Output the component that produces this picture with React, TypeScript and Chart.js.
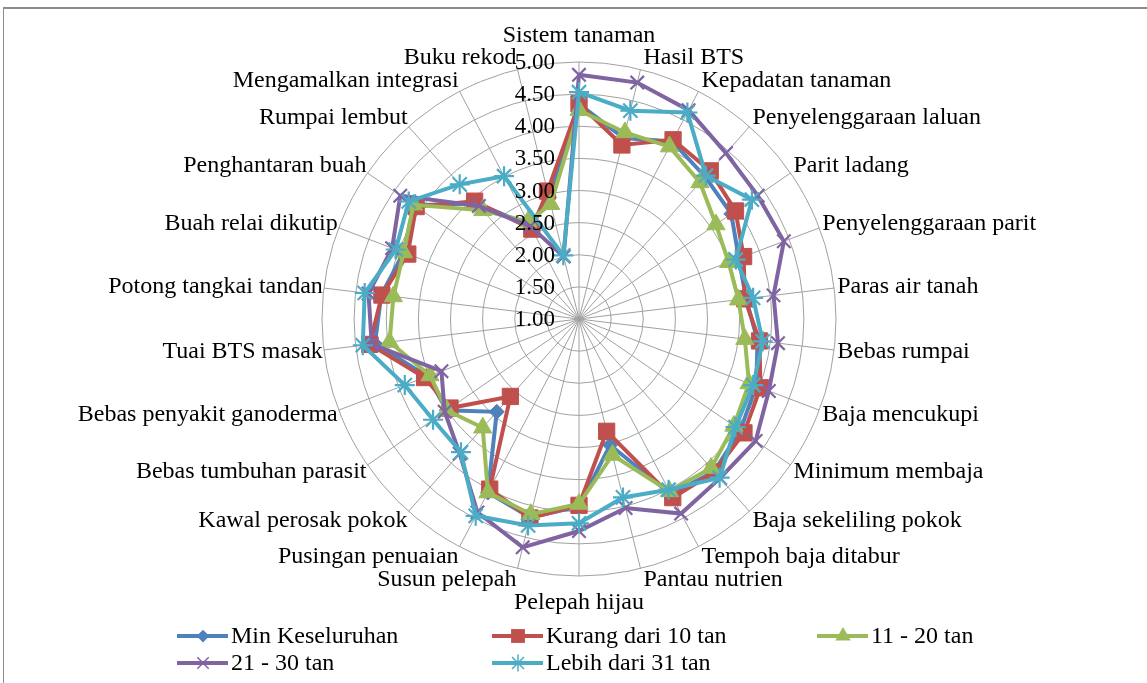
import React, { useEffect, useRef } from "react";
import { Chart, registerables } from "chart.js";

Chart.register(...registerables);

const categories = [
  "Sistem tanaman", "Hasil BTS", "Kepadatan tanaman", "Penyelenggaraan laluan",
  "Parit ladang", "Penyelenggaraan parit", "Paras air tanah", "Bebas rumpai",
  "Baja mencukupi", "Minimum membaja", "Baja sekeliling pokok", "Tempoh baja ditabur",
  "Pantau nutrien", "Pelepah hijau", "Susun pelepah", "Pusingan penuaian",
  "Kawal perosak pokok", "Bebas tumbuhan parasit", "Bebas penyakit ganoderma",
  "Tuai BTS masak", "Potong tangkai tandan", "Buah relai dikutip", "Penghantaran buah",
  "Rumpai lembut", "Mengamalkan integrasi", "Buku rekod",
];

const minKeseluruhan = [4.35, 3.9, 4.12, 3.96, 3.88, 3.66, 3.62, 3.8, 3.95, 4.05, 4.17, 4.08, 3.02, 3.92, 4.18, 4.05, 2.93, 3.5, 3.52, 4.2, 4.1, 3.92, 4.12, 3.4, 2.64, 2.95];
const kurang10 = [4.35, 3.79, 4.15, 4.08, 3.96, 3.74, 3.6, 3.83, 4.02, 4.12, 4.18, 4.14, 2.8, 3.9, 4.19, 3.99, 2.61, 3.44, 3.57, 4.28, 4.09, 3.85, 4.08, 3.45, 2.58, 3.05];
const t11_20 = [4.25, 3.99, 4.03, 3.84, 3.59, 3.49, 3.5, 3.6, 3.83, 3.93, 4.1, 4.03, 3.18, 3.88, 4.13, 4.05, 3.26, 3.5, 3.48, 3.97, 3.91, 3.92, 4.13, 3.26, 2.71, 2.84];
const t21_30 = [4.8, 4.79, 4.67, 4.45, 4.38, 4.41, 4.05, 4.12, 4.16, 4.34, 4.31, 4.42, 4.03, 4.3, 4.66, 4.4, 3.8, 3.54, 3.29, 4.25, 4.3, 4.11, 4.38, 3.35, 2.63, 2.0];
const lebih31 = [4.53, 4.34, 4.63, 3.98, 4.27, 3.61, 3.73, 3.88, 3.9, 3.96, 4.3, 4.0, 3.86, 4.18, 4.31, 4.46, 3.77, 3.76, 3.9, 4.39, 4.36, 4.05, 4.22, 3.8, 3.51, 2.02];

const tickValues = [1.0, 1.5, 2.0, 2.5, 3.0, 3.5, 4.0, 4.5, 5.0];

const seriesNames = ["Min Keseluruhan", "Kurang dari 10 tan", "11 - 20 tan", "21 - 30 tan", "Lebih dari 31 tan"];
const seriesData = [minKeseluruhan, kurang10, t11_20, t21_30, lebih31];
const seriesColors = ["#4F81BD", "#C0504D", "#9BBB59", "#8064A2", "#4BACC6"];
const seriesStyles = ["rectRot", "rect", "triangle", "crossRot", "star"];
const seriesRadius = [7.5, 11.5, 10.5, 9.5, 10];
const seriesOrder = [4, 3, 2, 1, 0];

const FONT = '"Liberation Serif", "Times New Roman", serif';

function drawMarker(ctx: CanvasRenderingContext2D, style: string, x: number, y: number, r: number, color: string) {
  ctx.save();
  ctx.fillStyle = color;
  ctx.strokeStyle = color;
  ctx.lineWidth = 1.5;
  ctx.beginPath();
  if (style === "rectRot") {
    ctx.moveTo(x, y - r); ctx.lineTo(x + r, y); ctx.lineTo(x, y + r); ctx.lineTo(x - r, y); ctx.closePath(); ctx.fill();
  } else if (style === "rect") {
    const s = r * Math.SQRT1_2; ctx.rect(x - s, y - s, 2 * s, 2 * s); ctx.fill();
  } else if (style === "triangle") {
    ctx.moveTo(x, y - r); ctx.lineTo(x + r * 0.866, y + r * 0.5); ctx.lineTo(x - r * 0.866, y + r * 0.5); ctx.closePath(); ctx.fill();
  } else if (style === "crossRot") {
    const s = r * Math.SQRT1_2;
    ctx.moveTo(x - s, y - s); ctx.lineTo(x + s, y + s); ctx.moveTo(x + s, y - s); ctx.lineTo(x - s, y + s); ctx.stroke();
  } else {
    const s = r * Math.SQRT1_2;
    ctx.moveTo(x - s, y - s); ctx.lineTo(x + s, y + s); ctx.moveTo(x + s, y - s); ctx.lineTo(x - s, y + s);
    ctx.moveTo(x, y - r); ctx.lineTo(x, y + r); ctx.moveTo(x - r, y); ctx.lineTo(x + r, y); ctx.stroke();
  }
  ctx.restore();
}

const legendPos = [
  { x: 177, y: 636 }, { x: 492, y: 636 }, { x: 817, y: 636 },
  { x: 177, y: 663 }, { x: 492, y: 663 },
];

const overlayPlugin = {
  id: "overlay",
  afterDatasetsDraw(chart: any) {
    const scale = chart.scales.r;
    const ctx: CanvasRenderingContext2D = chart.ctx;
    ctx.save();
    ctx.fillStyle = "#000";
    // tick labels
    ctx.font = `23px ${FONT}`;
    ctx.textAlign = "right";
    ctx.textBaseline = "middle";
    tickValues.forEach((v) => {
      const d = scale.getDistanceFromCenterForValue(v);
      ctx.fillText(v.toFixed(2), scale.xCenter - 24, scale.yCenter - d + 1);
    });
    // point labels
    ctx.font = `24px ${FONT}`;
    const R = scale.getDistanceFromCenterForValue(5);
    categories.forEach((lab, i) => {
      const ang = scale.getIndexAngle(i);
      const p = scale.getPointPosition(i, R);
      const s = Math.sin(ang);
      const c = Math.cos(ang);
      let x = p.x;
      let y = p.y;
      if (Math.abs(s) < 0.01) {
        ctx.textAlign = "center";
        y += c > 0 ? -26 : 27;
      } else {
        ctx.textAlign = s > 0 ? "left" : "right";
        x += s > 0 ? 3 : -1;
        y += -12 * c;
      }
      ctx.fillText(lab, x, y);
    });
    // legend
    ctx.font = `24px ${FONT}`;
    ctx.textAlign = "left";
    seriesNames.forEach((name, i) => {
      const { x, y } = legendPos[i];
      ctx.strokeStyle = seriesColors[i];
      ctx.lineWidth = 4;
      ctx.beginPath();
      ctx.moveTo(x, y);
      ctx.lineTo(x + 51, y);
      ctx.stroke();
      drawMarker(ctx, seriesStyles[i], x + 26, y, seriesRadius[i] * 0.85, seriesColors[i]);
      ctx.fillStyle = "#000";
      ctx.fillText(name, x + 54, y + 1);
    });
    ctx.restore();
  },
};

export default function App() {
  const ref = useRef<HTMLCanvasElement | null>(null);
  useEffect(() => {
    if (!ref.current) return;
    const chart = new Chart(ref.current, {
      type: "radar",
      data: {
        labels: categories,
        datasets: seriesNames.map((name, i) => ({
          label: name,
          data: seriesData[i],
          borderColor: seriesColors[i],
          backgroundColor: seriesColors[i],
          pointBackgroundColor: seriesColors[i],
          pointBorderColor: seriesColors[i],
          pointStyle: seriesStyles[i] as any,
          pointRadius: seriesRadius[i],
          pointBorderWidth: i >= 3 ? 2.2 : 1,
          borderWidth: 4,
          fill: false,
          tension: 0,
          order: seriesOrder[i],
        })),
      },
      options: {
        animation: false,
        responsive: false,
        devicePixelRatio: 1,
        layout: { padding: { left: 322, right: 311, top: 62, bottom: 107 } },
        plugins: { legend: { display: false }, tooltip: { enabled: false }, title: { display: false } },
        scales: {
          r: {
            min: 1,
            max: 5,
            ticks: { stepSize: 0.5, display: false },
            grid: { circular: true, color: "#a0a0a0", lineWidth: 1 },
            angleLines: { color: "#a0a0a0", lineWidth: 1 },
            pointLabels: { display: false },
          },
        },
      },
      plugins: [overlayPlugin],
    });
    return () => chart.destroy();
  }, []);
  return (
    <div style={{ position: "absolute", left: 0, top: 0, width: 1147, height: 683, background: "#fff", overflow: "hidden" }}>
      <div style={{ position: "absolute", left: 3, top: 7, right: -5, bottom: -5, borderTop: "2px solid #8c8c8c", borderLeft: "1px solid #8c8c8c" }} />
      <canvas ref={ref} width={1147} height={683} style={{ position: "absolute", left: 0, top: 0 }} />
    </div>
  );
}
